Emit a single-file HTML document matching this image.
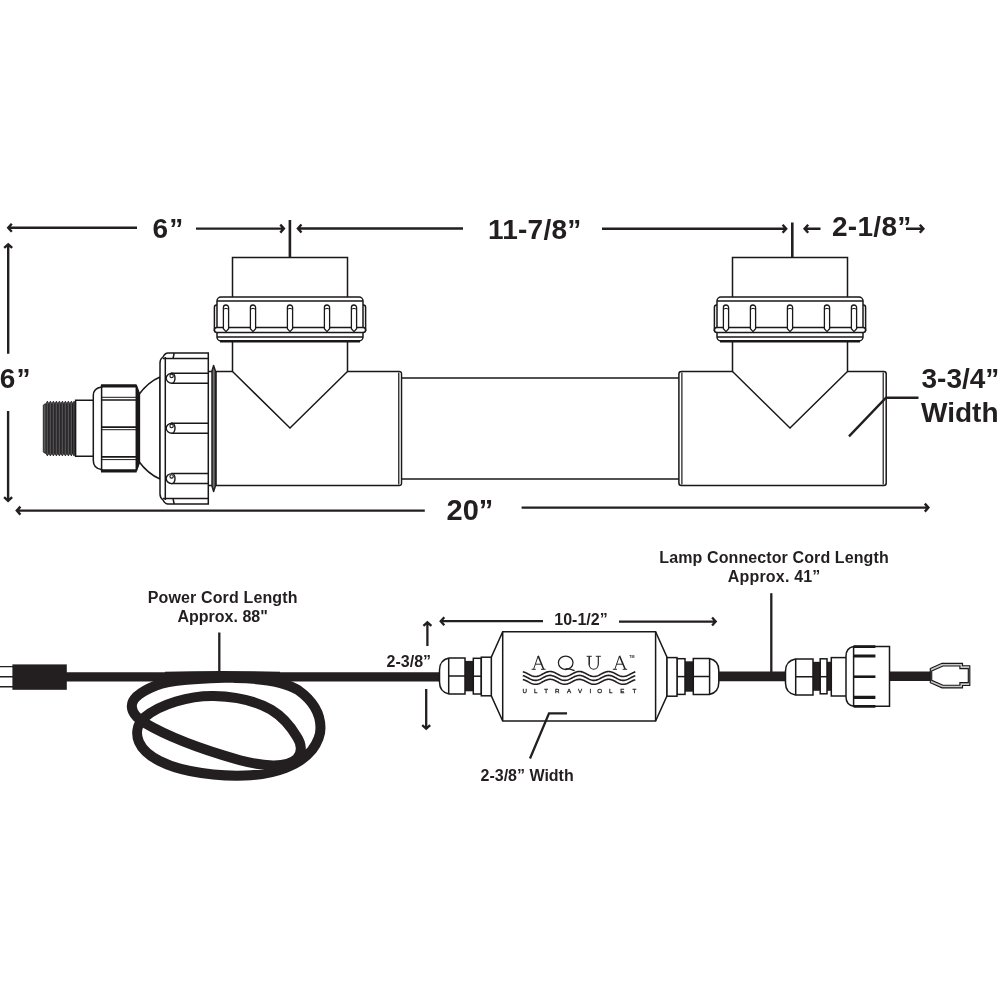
<!DOCTYPE html>
<html>
<head>
<meta charset="utf-8">
<title>UV Sterilizer Dimensions</title>
<style>
html,body{margin:0;padding:0;background:#fff;}
body{width:1000px;height:1000px;overflow:hidden;position:relative;font-family:"Liberation Sans",sans-serif;}
svg{position:absolute;left:0;top:0;display:block;will-change:transform;}
text{font-family:"Liberation Sans",sans-serif;font-weight:bold;fill:#231f20;}
.ln{fill:none;stroke:#1a1718;stroke-width:1.5;stroke-linecap:butt;stroke-linejoin:miter;}
.lw{fill:#fff;stroke:#1a1718;stroke-width:1.5;stroke-linejoin:miter;}
.dim{fill:none;stroke:#231f20;stroke-width:2.4;stroke-linecap:butt;stroke-linejoin:miter;}
.dim2{fill:none;stroke:#231f20;stroke-width:2.3;stroke-linecap:butt;stroke-linejoin:miter;}
.blk{fill:#231f20;stroke:none;}
.t26{font-size:28px;}
.t15{font-size:16px;}
</style>
</head>
<body>
<svg width="1000" height="1000" viewBox="0 0 1000 1000">
<rect x="0" y="0" width="1000" height="1000" fill="#ffffff"/>
<defs>
  <!-- union nut on the vertical ports, centred at x=0 -->
  <g id="unut">
    <!-- side ribs peeking past the edge -->
    <path class="lw" d="M-72,331 V307 Q-72,305 -73.5,305 Q-75.6,305 -75.6,307.5 V331 M72,331 V307 Q72,305 73.5,305 Q75.6,305 75.6,307.5 V331"/>
    <rect class="lw" x="-73" y="297" width="146" height="44" rx="4" ry="4"/>
    <path class="ln" d="M-73,301 H73 M-73,337 H73"/>
    <rect class="lw" x="-75.6" y="327.5" width="151.2" height="5" rx="2.5" ry="2.5"/>
    <path class="ln" style="stroke-width:2.6" d="M-70,341.3 H70"/>
    <g id="rib">
      <path class="lw" style="stroke-width:1.3" d="M-2.6,307.6 a2.6,2.6 0 0 1 5.2,0 V328.8 L0,331.6 L-2.6,328.8 Z"/>
      <path class="ln" style="stroke-width:1" d="M-2,309 Q0,307.6 2,309"/>
    </g>
    <use href="#rib" x="-64"/>
    <use href="#rib" x="-37"/>
    <use href="#rib" x="37"/>
    <use href="#rib" x="64"/>
  </g>
  <!-- tee fitting, port centred at x=0 -->
  <g id="port">
    <path class="lw" d="M-57.5,371.5 V257.5 H57.5 V371.5 L0,428 Z"/>
    <use href="#unut"/>
  </g>
  <g id="ah"><!-- arrow head pointing left, tip at 0,0 -->
    <path class="dim" d="M5.2,-5 L0,0 L5.2,5"/>
  </g>
  <g id="ahs"><!-- smaller arrow head pointing left -->
    <path class="dim2" d="M4.5,-4.3 L0,0 L4.5,4.3"/>
  </g>
</defs>

<!-- ================= TOP ASSEMBLY ================= -->
<g id="top">
  <!-- quartz / centre tube -->
  <rect class="lw" x="395" y="378" width="290" height="101"/>
  <!-- left tee body -->
  <path class="lw" d="M216,371.5 H399 Q401.5,371.5 401.5,374 V483 Q401.5,485.5 399,485.5 H216 Z"/>
  <path fill="#d1d3d4" stroke="none" d="M398.7,372.5 H400 Q401,372.5 401,374 V483 Q401,484.5 400,484.5 H398.7 Z"/>
  <path class="ln" style="stroke-width:1.1" d="M398.7,372.6 V484.4"/>
  <!-- right tee body -->
  <path class="lw" d="M681.4,371.5 H883.8 Q886.2,371.5 886.2,374 V483 Q886.2,485.5 883.8,485.5 H681.4 Q678.9,485.5 678.9,483 V374 Q678.9,371.5 681.4,371.5 Z"/>
  <path class="ln" style="stroke-width:1.2" d="M883.2,372.6 V484.4 M681.9,372.6 V484.4"/>
  <use href="#port" x="290"/>
  <use href="#port" x="790"/>
</g>

<!-- ================= LEFT END CAP ================= -->
<g id="endcap">
  <!-- threaded nipple -->
  <path fill="#414042" stroke="#231f20" stroke-width="0.9" stroke-linejoin="miter" d="M43.3,405.2 L44.3,404.2 L45.9,403.9 L47.4,401.2 L48.9,403.9 L50.4,401.2 L51.9,403.9 L53.4,401.2 L54.9,403.9 L56.4,401.2 L57.9,403.9 L59.4,401.2 L60.9,403.9 L62.4,401.2 L63.9,403.9 L65.4,401.2 L66.9,403.9 L68.4,401.2 L69.9,403.9 L71.4,401.2 L72.9,403.9 L74.0,401.2 L75.2,403.3 L75.2,453.8 L74.0,455.9 L72.5,453.2 L71.4,455.9 L69.9,453.2 L68.4,455.9 L66.9,453.2 L65.4,455.9 L63.9,453.2 L62.4,455.9 L60.9,453.2 L59.4,455.9 L57.9,453.2 L56.4,455.9 L54.9,453.2 L53.4,455.9 L51.9,453.2 L50.4,455.9 L48.9,453.2 L47.4,455.9 L45.9,453.2 L44.3,452.9 L43.3,451.9 Z"/>
  <path fill="none" stroke="#231f20" stroke-width="1.2" d="M45.9,403.9 V453.2 M48.9,403.9 V453.2 M51.9,403.9 V453.2 M54.9,403.9 V453.2 M57.9,403.9 V453.2 M60.9,403.9 V453.2 M63.9,403.9 V453.2 M66.9,403.9 V453.2 M69.9,403.9 V453.2 M72.5,403.9 V453.2"/>
  <path fill="#58595b" stroke="none" d="M43.9,405.4 L45.5,404.4 V452.7 L43.9,451.7 Z"/>
  <path fill="none" stroke="#58595b" stroke-width="0.8" d="M47.4,402.7 V454.4 M50.4,402.7 V454.4 M53.4,402.7 V454.4 M56.4,402.7 V454.4 M59.4,402.7 V454.4 M62.4,402.7 V454.4 M65.4,402.7 V454.4 M68.4,402.7 V454.4 M71.4,402.7 V454.4"/>
  <!-- neck -->
  <path class="lw" d="M75.6,400.3 H94 V456.3 H75.6 Z"/>
  <!-- dome -->
  <path class="lw" d="M138.5,395 Q148,382 160,377 V479 Q148,474 138.5,461 Z"/>
  <!-- small nut -->
  <path class="lw" d="M101.6,385.8 H136.4 L139.4,394 V462.4 L136.4,470.8 H101.6 V469.6 Q93.3,468.4 93.3,460.5 V395.5 Q93.3,388.2 101.6,387 V385.8 Z"/>
  <path class="ln" d="M101.6,385.8 V470.8 M136.3,386 V470.6"/>
  <path class="ln" style="stroke-width:3.2" d="M101,385.8 H136.6 M101,470.8 H136.6"/>
  <path fill="#1a1718" d="M136.3,385 L139.9,394.2 V462.2 L136.3,471.6 Z"/>
  <path class="ln" style="stroke-width:1" d="M101.6,397.3 H136.4 M101.6,429.7 H136.4 M101.6,459.6 H136.4"/>
  <path class="ln" style="stroke-width:1.7" d="M101.6,400 H136.4 M101.6,427.1 H136.4 M101.6,456.9 H136.4"/>
  <!-- big union nut -->
  <path class="lw" d="M168,353 H208.3 V504 H168 Q165,504 163,500 Q160,498 160,494 V363 Q160,359 163,357 Q165,353 168,353 Z"/>
  <path class="ln" d="M165.3,357 V500 M163,358.6 H208.3 M163,498.6 H208.3 M173,358.6 L174.2,353 M173,498.6 L174.2,504"/>
  <g id="slot">
    <path class="ln" d="M171,373.2 H208.3 M171,383.2 H208.3"/>
    <path class="lw" style="stroke-width:1.4" d="M172,373.2 A5.8,5 0 0 0 172,383.2 A3,5 0 0 0 172,373.2"/>
    <circle class="ln" style="stroke-width:1.1" cx="171.6" cy="376" r="1.7"/>
  </g>
  <use href="#slot" y="50"/>
  <use href="#slot" y="100.4"/>
  <!-- flange -->
  <path class="ln" d="M208.3,371.5 H216 M208.3,485.5 H216"/>
  <path fill="#6d6e71" stroke="#231f20" stroke-width="1.5" stroke-linejoin="round" d="M212,371 L213.6,365.5 L215.4,371 V486 L213.6,491.5 L212,486 Z"/>
</g>

<!-- ================= TOP DIMENSIONS ================= -->
<g id="topdims">
  <!-- 6" horizontal -->
  <path class="dim" d="M11.8,223.8 L8.2,227.8 L11.8,231.8 M8.7,227.8 H137.0"/>
  <path class="dim" d="M280.3,224.6 L283.9,228.6 L280.3,232.6 M283.4,228.6 H196.0"/>
  <text class="t26" x="152.6" y="238.2" style="letter-spacing:1px">6”</text>
  <!-- tick marks -->
  <path class="dim" style="stroke-width:2.6" d="M289.9,220 V257 M792.3,222.5 V257"/>
  <!-- 11-7/8" -->
  <path class="dim" d="M301.5,224.5 L297.9,228.5 L301.5,232.5 M298.4,228.5 H463.0"/>
  <path class="dim" d="M782.6,224.8 L786.2,228.8 L782.6,232.8 M785.7,228.8 H602.0"/>
  <text class="t26" x="487.9" y="238.9" style="letter-spacing:0.25px">11-7/8”</text>
  <!-- 2-1/8" -->
  <path class="dim" d="M808.2,224.8 L804.6,228.8 L808.2,232.8 M805.1,228.8 H820.5"/>
  <path class="dim" d="M919.8,224.7 L923.4,228.7 L919.8,232.7 M922.9,228.7 H906.0"/>
  <text class="t26" x="832" y="236.3" style="letter-spacing:0.3px">2-1/8”</text>
  <!-- 6" vertical -->
  <path class="dim" d="M4.2,247.9 L8.2,244.3 L12.2,247.9 M8.2,244.8 V353.8"/>
  <path class="dim" d="M4.1,497.2 L8.1,500.8 L12.1,497.2 M8.1,500.3 V411.0"/>
  <text class="t26" x="-0.2" y="388.2" style="letter-spacing:1px">6”</text>
  <!-- 20" -->
  <path class="dim" d="M20.4,506.6 L16.8,510.6 L20.4,514.6 M17.3,510.6 H424.8"/>
  <path class="dim" d="M924.8,503.6 L928.4,507.6 L924.8,511.6 M927.9,507.6 H521.6"/>
  <text class="t26" style="font-size:29px" x="446.6" y="519.6">20”</text>
  <!-- 3-3/4" width -->
  <path class="dim" d="M849,436.3 L886,397.7 H918.5"/>
  <text class="t26" x="921.5" y="388.2">3-3/4”</text>
  <text class="t26" x="921" y="422">Width</text>
</g>

<!-- ================= BOTTOM ASSEMBLY ================= -->
<g id="bottom">
  <!-- plug -->
  <path fill="none" stroke="#231f20" stroke-width="1.4" d="M0,666.6 H14 M0,676.8 H14 M0,686.7 H14"/>
  <rect class="blk" x="12.4" y="664.4" width="54.4" height="25.4"/>
  <!-- power cord -->
  <path fill="none" stroke="#231f20" stroke-width="9.4" d="M60,676.9 H440"/>
  <path id="coil" fill="none" stroke="#231f20" stroke-width="10" stroke-linecap="round" stroke-linejoin="round" d="M240,677.5 C200,678 170,680 156,685.5 C141,691.5 131.8,698 131.8,706 C131.8,713 136,717.5 144,722.5 C165,735 200,749 240,760.2 C262,766 287,768.8 297,758.5 C303,752 301,743 297,737 C290,725 280,715 271,709.6 C255,700.5 235,696.5 214,696 C190,695.5 160,704 144.5,717.4 C136,725 136,735 139,742 C146,758 170,767 190,771 C210,775 230,776 245,775.5 C275,774.5 300,765 312,750 C318,742 320.5,735 320.5,728 C320.5,712 312,700 298,690 C285,682 265,678.5 235,678"/>
  <path fill="none" stroke="#231f20" stroke-width="3" d="M165,673.3 Q220,671.6 280,673.3"/>
  <!-- ballast box -->
  <path class="lw" d="M502.7,631.7 H655.6 L667,657.2 V695.8 L655.6,721 H502.7 L491.3,695.8 V657.2 Z"/>
  <path class="ln" d="M502.7,631.7 V721 M655.6,631.7 V721"/>
  <!-- left gland -->
  <g id="gland">
    <rect class="blk" x="464" y="660.9" width="10" height="30.4"/>
    <path class="lw" d="M465,658 H449 Q439.5,660 439.5,670 V682 Q439.5,692 449,694 H465 Z"/>
    <path class="ln" d="M448.7,658 V694 M448.7,676 H465"/>
    <rect class="lw" x="473.3" y="658.3" width="8" height="35.7"/>
    <path class="ln" d="M473.3,676.2 H481.3"/>
    <rect class="lw" x="481.3" y="657.2" width="10" height="38.6"/>
  </g>
  <!-- right gland of box (mirror) -->
  <use href="#gland" transform="translate(1158.3,0.4) scale(-1,1)"/>
  <!-- lamp cord -->
  <path fill="none" stroke="#231f20" stroke-width="9.6" d="M718,676.4 H787 M889,676.3 H931"/>
  <!-- lamp-side gland -->
  <rect class="blk" x="812" y="661.8" width="20" height="29"/>
  <path class="lw" d="M813,659 H795.5 Q785.5,661 785.5,671 V683 Q785.5,693 795.5,695 H813 Z"/>
  <path class="ln" d="M795.7,659 V695 M795.7,676.7 H813"/>
  <rect class="lw" x="820.2" y="658.8" width="6.8" height="35"/>
  <path class="ln" d="M820.2,676.7 H827"/>
  <rect class="lw" x="831.3" y="657.6" width="16" height="38.4"/>
  <!-- big lamp nut -->
  <path class="lw" d="M853.6,646.5 H889.5 V706.3 H853.6 Q846,704.6 846,697 V656 Q846,648 853.6,646.5 Z"/>
  <path class="ln" d="M853.6,646.5 V706.3"/>
  <path class="ln" style="stroke-width:2.8" d="M853.6,646.6 H875.4 M853.6,706.3 H875.4"/>
  <path class="ln" style="stroke-width:3.2" d="M853.6,656 H875.4 M853.6,697.4 H875.4"/>
  <path class="ln" style="stroke-width:2.6" d="M853.6,676.7 H875.4"/>
  <!-- lamp connector -->
  <path fill="#c7c8ca" stroke="#1a1718" stroke-width="1.15" stroke-linejoin="miter" d="M930.3,668.5 L942,663.3 H962.5 V665.7 H969.8 V685.5 H962.5 V687.9 H942 L930.3,682.7 Z"/>
  <path fill="#fff" stroke="#1a1718" stroke-width="1.15" stroke-linejoin="miter" d="M931.7,671 L943,666 H959.9 V668.6 H968.3 V682.6 H959.9 V685.2 H943 L931.7,680.3 Z"/>
  <!-- logo -->
  <g id="logo">
    <path fill="none" stroke="#231f20" stroke-width="0.95" d="M538.2,655.9 L533.6,669.3 M535.5,664.2 H541.7 M531.6,669.3 H535.8 M541.0,669.3 H545.6"/><path fill="none" stroke="#231f20" stroke-width="1.5" d="M538.2,655.9 L543.6,669.3"/>
    <ellipse cx="565.7" cy="662.8" rx="7.3" ry="6.7" fill="none" stroke="#231f20" stroke-width="1.25"/>
    <path fill="none" stroke="#231f20" stroke-width="1.2" d="M565.5,668.6 Q570,668.8 574.6,670.6"/>
    <path fill="none" stroke="#231f20" stroke-width="1.5" d="M589.2,656.3 V664.5"/>
    <path fill="none" stroke="#231f20" stroke-width="1.15" d="M589.1,664 C589.1,671 598.3,671 598.3,664 V656.3"/>
    <path fill="none" stroke="#231f20" stroke-width="0.95" d="M586.6,656.3 H591.8 M595.8,656.3 H600.9"/>
    <path fill="none" stroke="#231f20" stroke-width="0.95" d="M619.5,655.9 L614.8,669.3 M616.7,664.2 H623.1 M612.8,669.3 H617.0 M622.6,669.3 H627.2"/><path fill="none" stroke="#231f20" stroke-width="1.5" d="M619.5,655.9 L625.2,669.3"/>
    <text style="font-weight:bold;font-size:3.6px;" x="629.2" y="657.6">TM</text>
    <path fill="none" stroke="#231f20" stroke-width="1.6" d="M522.8,671.72 L523.6,671.92 L524.4,672.19 L525.2,672.51 L526.0,672.88 L526.8,673.27 L527.6,673.69 L528.4,674.12 L529.2,674.54 L530.0,674.95 L530.8,675.33 L531.6,675.67 L532.4,675.97 L533.2,676.20 L534.0,676.37 L534.8,676.47 L535.6,676.50 L536.4,676.45 L537.2,676.34 L538.0,676.15 L538.8,675.90 L539.6,675.60 L540.4,675.25 L541.2,674.86 L541.9,674.45 L542.7,674.02 L543.5,673.60 L544.3,673.18 L545.1,672.79 L545.9,672.43 L546.7,672.12 L547.5,671.87 L548.3,671.68 L549.1,671.55 L549.9,671.50 L550.7,671.52 L551.5,671.62 L552.3,671.78 L553.1,672.01 L553.9,672.29 L554.7,672.63 L555.5,673.01 L556.3,673.41 L557.1,673.84 L557.9,674.26 L558.7,674.68 L559.5,675.08 L560.3,675.45 L561.1,675.78 L561.9,676.05 L562.7,676.27 L563.5,676.41 L564.3,676.49 L565.1,676.49 L565.9,676.42 L566.7,676.28 L567.5,676.07 L568.3,675.81 L569.1,675.49 L569.9,675.12 L570.7,674.72 L571.5,674.30 L572.3,673.88 L573.1,673.45 L573.9,673.04 L574.7,672.66 L575.5,672.32 L576.3,672.03 L577.1,671.80 L577.9,671.63 L578.7,671.53 L579.4,671.50 L580.2,671.55 L581.0,671.66 L581.8,671.85 L582.6,672.10 L583.4,672.40 L584.2,672.76 L585.0,673.14 L585.8,673.56 L586.6,673.98 L587.4,674.41 L588.2,674.82 L589.0,675.21 L589.8,675.57 L590.6,675.88 L591.4,676.13 L592.2,676.32 L593.0,676.45 L593.8,676.50 L594.6,676.48 L595.4,676.38 L596.2,676.22 L597.0,675.99 L597.8,675.70 L598.6,675.37 L599.4,674.99 L600.2,674.58 L601.0,674.16 L601.8,673.73 L602.6,673.31 L603.4,672.91 L604.2,672.54 L605.0,672.22 L605.8,671.95 L606.6,671.73 L607.4,671.59 L608.2,671.51 L609.0,671.51 L609.8,671.58 L610.6,671.72 L611.4,671.93 L612.2,672.20 L613.0,672.52 L613.8,672.88 L614.6,673.28 L615.4,673.70 L616.2,674.13 L616.9,674.55 L617.7,674.96 L618.5,675.34 L619.3,675.68 L620.1,675.97 L620.9,676.20 L621.7,676.37 L622.5,676.47 L623.3,676.50 L624.1,676.45 L624.9,676.33 L625.7,676.15 L626.5,675.90 L627.3,675.59 L628.1,675.24 L628.9,674.85 L629.7,674.44 L630.5,674.01 L631.3,673.59 L632.1,673.17 L632.9,672.78 L633.7,672.43 L634.5,672.12 L635.3,671.87"/>
    <path fill="none" stroke="#231f20" stroke-width="1.6" d="M522.8,675.62 L523.6,675.82 L524.4,676.09 L525.2,676.41 L526.0,676.78 L526.8,677.17 L527.6,677.59 L528.4,678.02 L529.2,678.44 L530.0,678.85 L530.8,679.23 L531.6,679.57 L532.4,679.87 L533.2,680.10 L534.0,680.27 L534.8,680.37 L535.6,680.40 L536.4,680.35 L537.2,680.24 L538.0,680.05 L538.8,679.80 L539.6,679.50 L540.4,679.15 L541.2,678.76 L541.9,678.35 L542.7,677.92 L543.5,677.50 L544.3,677.08 L545.1,676.69 L545.9,676.33 L546.7,676.02 L547.5,675.77 L548.3,675.58 L549.1,675.45 L549.9,675.40 L550.7,675.42 L551.5,675.52 L552.3,675.68 L553.1,675.91 L553.9,676.19 L554.7,676.53 L555.5,676.91 L556.3,677.31 L557.1,677.74 L557.9,678.16 L558.7,678.58 L559.5,678.98 L560.3,679.35 L561.1,679.68 L561.9,679.95 L562.7,680.17 L563.5,680.31 L564.3,680.39 L565.1,680.39 L565.9,680.32 L566.7,680.18 L567.5,679.97 L568.3,679.71 L569.1,679.39 L569.9,679.02 L570.7,678.62 L571.5,678.20 L572.3,677.78 L573.1,677.35 L573.9,676.94 L574.7,676.56 L575.5,676.22 L576.3,675.93 L577.1,675.70 L577.9,675.53 L578.7,675.43 L579.4,675.40 L580.2,675.45 L581.0,675.56 L581.8,675.75 L582.6,676.00 L583.4,676.30 L584.2,676.66 L585.0,677.04 L585.8,677.46 L586.6,677.88 L587.4,678.31 L588.2,678.72 L589.0,679.11 L589.8,679.47 L590.6,679.78 L591.4,680.03 L592.2,680.22 L593.0,680.35 L593.8,680.40 L594.6,680.38 L595.4,680.28 L596.2,680.12 L597.0,679.89 L597.8,679.60 L598.6,679.27 L599.4,678.89 L600.2,678.48 L601.0,678.06 L601.8,677.63 L602.6,677.21 L603.4,676.81 L604.2,676.44 L605.0,676.12 L605.8,675.85 L606.6,675.63 L607.4,675.49 L608.2,675.41 L609.0,675.41 L609.8,675.48 L610.6,675.62 L611.4,675.83 L612.2,676.10 L613.0,676.42 L613.8,676.78 L614.6,677.18 L615.4,677.60 L616.2,678.03 L616.9,678.45 L617.7,678.86 L618.5,679.24 L619.3,679.58 L620.1,679.87 L620.9,680.10 L621.7,680.27 L622.5,680.37 L623.3,680.40 L624.1,680.35 L624.9,680.23 L625.7,680.05 L626.5,679.80 L627.3,679.49 L628.1,679.14 L628.9,678.75 L629.7,678.34 L630.5,677.91 L631.3,677.49 L632.1,677.07 L632.9,676.68 L633.7,676.33 L634.5,676.02 L635.3,675.77"/>
    <path fill="none" stroke="#231f20" stroke-width="1.6" d="M522.8,679.52 L523.6,679.72 L524.4,679.99 L525.2,680.31 L526.0,680.68 L526.8,681.07 L527.6,681.49 L528.4,681.92 L529.2,682.34 L530.0,682.75 L530.8,683.13 L531.6,683.47 L532.4,683.77 L533.2,684.00 L534.0,684.17 L534.8,684.27 L535.6,684.30 L536.4,684.25 L537.2,684.14 L538.0,683.95 L538.8,683.70 L539.6,683.40 L540.4,683.05 L541.2,682.66 L541.9,682.25 L542.7,681.82 L543.5,681.40 L544.3,680.98 L545.1,680.59 L545.9,680.23 L546.7,679.92 L547.5,679.67 L548.3,679.48 L549.1,679.35 L549.9,679.30 L550.7,679.32 L551.5,679.42 L552.3,679.58 L553.1,679.81 L553.9,680.09 L554.7,680.43 L555.5,680.81 L556.3,681.21 L557.1,681.64 L557.9,682.06 L558.7,682.48 L559.5,682.88 L560.3,683.25 L561.1,683.58 L561.9,683.85 L562.7,684.07 L563.5,684.21 L564.3,684.29 L565.1,684.29 L565.9,684.22 L566.7,684.08 L567.5,683.87 L568.3,683.61 L569.1,683.29 L569.9,682.92 L570.7,682.52 L571.5,682.10 L572.3,681.68 L573.1,681.25 L573.9,680.84 L574.7,680.46 L575.5,680.12 L576.3,679.83 L577.1,679.60 L577.9,679.43 L578.7,679.33 L579.4,679.30 L580.2,679.35 L581.0,679.46 L581.8,679.65 L582.6,679.90 L583.4,680.20 L584.2,680.56 L585.0,680.94 L585.8,681.36 L586.6,681.78 L587.4,682.21 L588.2,682.62 L589.0,683.01 L589.8,683.37 L590.6,683.68 L591.4,683.93 L592.2,684.12 L593.0,684.25 L593.8,684.30 L594.6,684.28 L595.4,684.18 L596.2,684.02 L597.0,683.79 L597.8,683.50 L598.6,683.17 L599.4,682.79 L600.2,682.38 L601.0,681.96 L601.8,681.53 L602.6,681.11 L603.4,680.71 L604.2,680.34 L605.0,680.02 L605.8,679.75 L606.6,679.53 L607.4,679.39 L608.2,679.31 L609.0,679.31 L609.8,679.38 L610.6,679.52 L611.4,679.73 L612.2,680.00 L613.0,680.32 L613.8,680.68 L614.6,681.08 L615.4,681.50 L616.2,681.93 L616.9,682.35 L617.7,682.76 L618.5,683.14 L619.3,683.48 L620.1,683.77 L620.9,684.00 L621.7,684.17 L622.5,684.27 L623.3,684.30 L624.1,684.25 L624.9,684.13 L625.7,683.95 L626.5,683.70 L627.3,683.39 L628.1,683.04 L628.9,682.65 L629.7,682.24 L630.5,681.81 L631.3,681.39 L632.1,680.97 L632.9,680.58 L633.7,680.23 L634.5,679.92 L635.3,679.67"/>
    <text style="font-weight:normal;font-size:6.2px;text-anchor:middle;stroke:#231f20;stroke-width:0.3px;" y="692.9" x="524.75 535.7 546.2 557.25 569 580 590.4 599.7 610.8 622.25 634.4">ULTRAVIOLET</text>
  </g>
</g>

<!-- ================= BOTTOM DIMENSIONS ================= -->
<g id="botdims">
  <text class="t15" x="147.7" y="603" style="letter-spacing:0.14px">Power Cord Length</text>
  <text class="t15" x="177.5" y="622.2">Approx. 88"</text>
  <path class="dim2" d="M219.3,632.5 V672"/>
  <text class="t15" x="659.3" y="562.7" style="letter-spacing:0.11px">Lamp Connector Cord Length</text>
  <text class="t15" x="727.7" y="581.5" style="letter-spacing:0.2px">Approx. 41”</text>
  <path class="dim2" d="M771.3,593.2 V672"/>
  <!-- 10-1/2" -->
  <path class="dim2" d="M444.3,617.2 L440.7,621.2 L444.3,625.2 M441.2,621.2 H543.0"/>
  <path class="dim2" d="M712.1,617.6 L715.7,621.6 L712.1,625.6 M715.2,621.6 H619.0"/>
  <text class="t15" x="554.3" y="624.6">10-1/2”</text>
  <!-- 2-3/8" vertical -->
  <path class="dim2" d="M423.4,625.9 L427.4,622.3 L431.4,625.9 M427.4,622.8 V646.0"/>
  <path class="dim2" d="M422.2,725.1 L426.2,728.7 L430.2,725.1 M426.2,728.2 V689.0"/>
  <text class="t15" x="386.6" y="666.5">2-3/8”</text>
  <!-- width leader -->
  <path class="dim2" d="M567,713.4 H549 L530,758.5"/>
  <text class="t15" x="480.5" y="781">2-3/8” Width</text>
</g>
</svg>
</body>
</html>
